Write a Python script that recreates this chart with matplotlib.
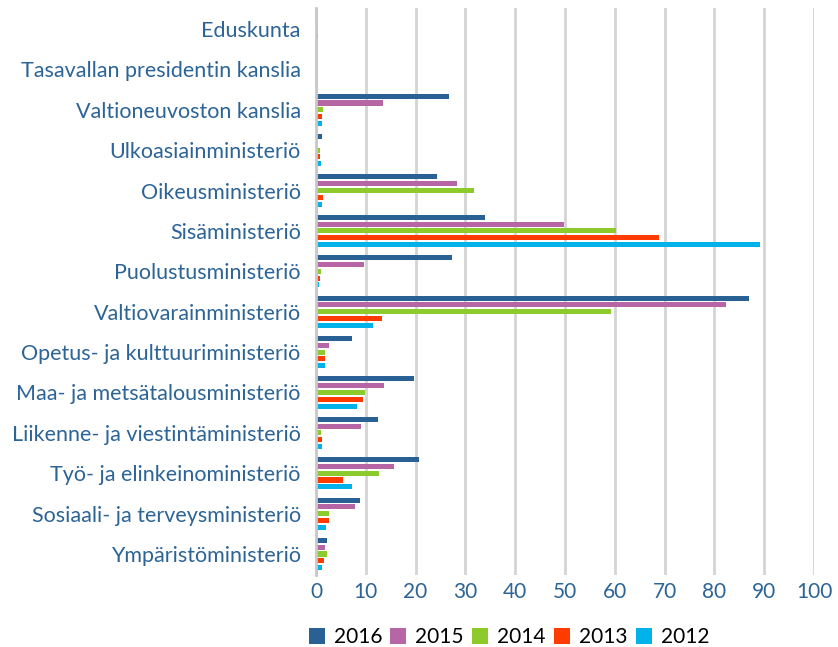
import numpy as np
import matplotlib.pyplot as plt

categories = [
    "Eduskunta",
    "Tasavallan presidentin kanslia",
    "Valtioneuvoston kanslia",
    "Ulkoasiainministeriö",
    "Oikeusministeriö",
    "Sisäministeriö",
    "Puolustusministeriö",
    "Valtiovarainministeriö",
    "Opetus- ja kulttuuriministeriö",
    "Maa- ja metsätalousministeriö",
    "Liikenne- ja viestintäministeriö",
    "Työ- ja elinkeinoministeriö",
    "Sosiaali- ja terveysministeriö",
    "Ympäristöministeriö",
]
years = ["2016", "2015", "2014", "2013", "2012"]
v2016 = [0.1, 0.2, 26.7, 1.3, 24.2, 34.0, 27.4, 87.0, 7.2, 19.6, 12.4, 20.7, 8.8, 2.3]
v2015 = [0.0, 0.1, 13.5, 0.2, 28.3, 49.7, 9.6, 82.3, 2.6, 13.7, 9.1, 15.7, 7.9, 1.9]
v2014 = [0.5, 0.0, 1.5, 0.8, 31.7, 60.3, 1.1, 59.2, 1.8, 9.9, 1.1, 12.6, 2.7, 2.2]
v2013 = [0.5, 0.0, 1.3, 0.8, 1.5, 68.9, 0.8, 13.2, 1.8, 9.4, 1.3, 5.4, 2.6, 1.7]
v2012 = [0.0, 0.0, 1.3, 1.0, 1.3, 89.1, 0.6, 11.4, 1.8, 8.2, 1.3, 7.2, 2.0, 1.2]
series = [v2016, v2015, v2014, v2013, v2012]
colors = ["#2a6194", "#b665a5", "#8dca2b", "#ff3b00", "#00b1ea"]

plt.rcParams["font.family"] = ["Lato", "DejaVu Sans"]
label_blue = "#2c6497"

fig = plt.figure(figsize=(8.38, 6.47), dpi=100)
ax = fig.add_axes([316 / 838, 1 - 575 / 647, (814 - 316) / 838, (575 - 8) / 647])

y = np.arange(len(categories))
pitch = 0.168
height = 0.125
for k, (vals, col, yr) in enumerate(zip(series, colors, years)):
    ax.barh(y + (k - 2) * pitch, vals, height=height, color=col, label=yr,
            edgecolor="none", zorder=3)

ax.set_xlim(0, 100)
ax.set_ylim(len(categories) - 0.48, -0.52)
ax.set_xticks(np.arange(0, 101, 10))
ax.set_yticks(y)
ax.set_yticklabels(categories)
ax.grid(axis="x", color="#d4d4d4", linewidth=2, zorder=0)
for s in ["top", "right", "bottom"]:
    ax.spines[s].set_visible(False)
ax.spines["left"].set_color("#c8c8c8")
ax.spines["left"].set_linewidth(2)
ax.spines["left"].set_zorder(4)
ax.tick_params(axis="both", length=0)
ax.tick_params(axis="y", labelsize=15.5, labelcolor=label_blue, pad=11)
ax.tick_params(axis="x", labelsize=15, labelcolor=label_blue, pad=5)

handles, labels = ax.get_legend_handles_labels()
fig.legend(handles, labels, loc="center", bbox_to_anchor=(509 / 838, 1 - 637 / 647),
           ncol=5, frameon=False, fontsize=15, handlelength=0.77, handleheight=0.77,
           handletextpad=0.43, columnspacing=0.4)

fig.savefig("out.png", dpi=100)
